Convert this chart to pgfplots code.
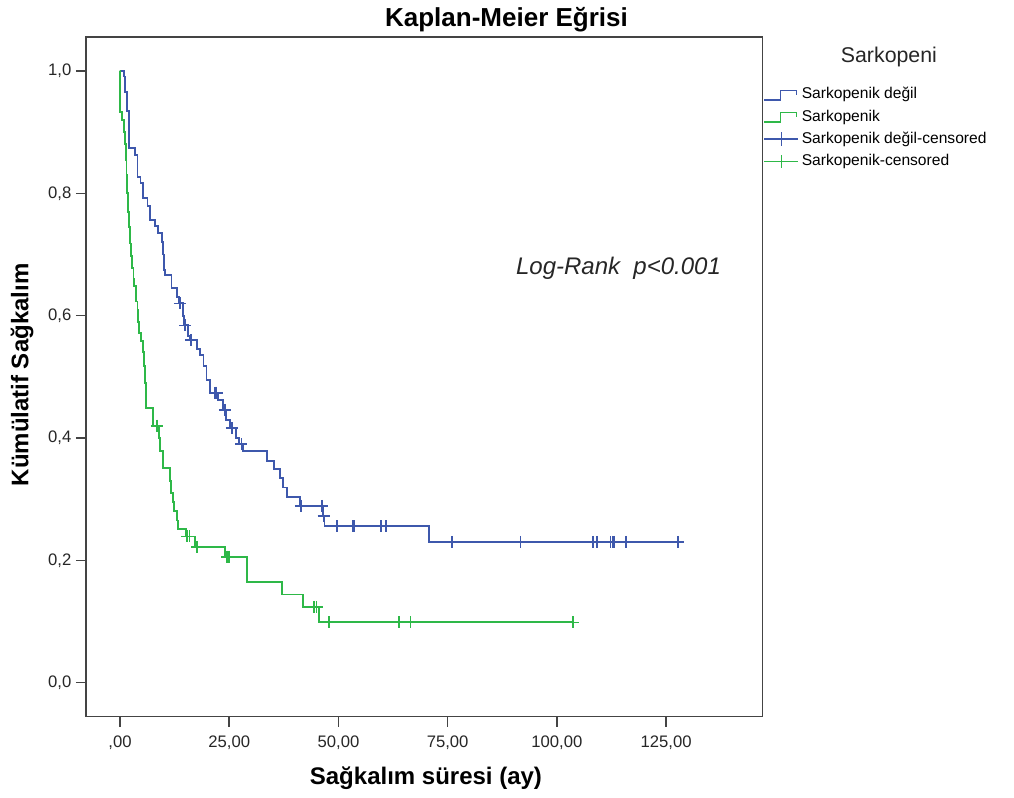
\documentclass[border=0pt]{standalone}
\usepackage{fontspec}
\setmainfont{Liberation Sans}
\usepackage{pgfplots}
\pgfplotsset{compat=1.18}
\definecolor{kmblue}{HTML}{3E58AC}
\definecolor{kmgreen}{HTML}{2EB848}
\definecolor{axgray}{HTML}{444444}
\begin{document}
\begin{tikzpicture}
\useasboundingbox (-64.5pt,-61pt) rectangle (696pt,537.5pt);
\begin{axis}[
  at={(0pt,0pt)}, anchor=south west,
  scale only axis, width=507.5pt, height=509.8pt,
  xmin=-7.78, xmax=147.1, ymin=-0.0556, ymax=1.0556,
  clip=false,
  axis line style={draw=axgray, line width=1.1pt},
  xtick={0,25,50,75,100,125},
  xticklabels={{,00},{25,00},{50,00},{75,00},{100,00},{125,00}},
  ytick={0,0.2,0.4,0.6,0.8,1.0},
  yticklabels={{0,0},{0,2},{0,4},{0,6},{0,8},{1,0}},
  tick align=outside, tick pos=left,
  major tick length=7.5pt,
  tick style={draw=axgray, line width=1.1pt},
  ticklabel style={font=\fontsize{12.5}{14}\selectfont, text=black!85},
  xticklabel style={yshift=-3pt},
  title={Kaplan-Meier Eğrisi},
  title style={at={(0.6214,1.0035)}, anchor=base, font=\bfseries\fontsize{19.5}{22}\selectfont},
  xlabel={Sağkalım süresi (ay)},
  xlabel style={at={(0.5024,-0.0998)}, anchor=base, font=\bfseries\fontsize{18}{21}\selectfont},
  ylabel={Kümülatif Sağkalım},
  ylabel style={at={(-0.085,0.5027)}, anchor=base, rotate=0, font=\bfseries\fontsize{18}{21}\selectfont},
  legend cell align=left,
  legend style={draw=none, fill=none, at={(1.0015,0.9265)}, anchor=north west,
    inner sep=0pt, outer sep=0pt, row sep=4.6pt, column sep=0pt,
    font=\fontsize{11.7}{14}\selectfont,
    nodes={text height=9pt, text depth=3pt, inner xsep=2pt, inner ysep=0pt}},
]
% Sarkopenik degil (step)
\addplot[kmblue, line width=1.4pt, const plot mark left, no marks,
  legend image code/.code={\draw[kmblue, line width=1.1pt] (0pt,-3.7pt) -- (12pt,-3.7pt) -- (12pt,3.3pt) -- (24pt,3.3pt) -- (24pt,0pt);}]
coordinates {
(0,1.000) (0.9,0.991) (1.2,0.966) (1.6,0.934) (2.1,0.874) (3.4,0.863) (4.0,0.827)
(4.7,0.817) (5.2,0.792) (6.3,0.779) (6.8,0.757) (8.0,0.746) (8.7,0.735) (9.6,0.720)
(9.8,0.700) (10.0,0.675) (10.3,0.667) (11.8,0.645) (13.0,0.630) (13.5,0.620)
(14.4,0.600) (14.7,0.584) (15.5,0.567) (16.0,0.560) (17.6,0.546) (18.3,0.535)
(19.1,0.517) (19.8,0.495) (20.6,0.474) (22.5,0.462) (23.5,0.446) (24.3,0.430)
(25.2,0.416) (26.5,0.400) (27.3,0.390) (28.2,0.378) (33.6,0.363) (35.2,0.349)
(36.6,0.335) (37.4,0.319) (38.2,0.304) (41.2,0.289) (46.4,0.273) (46.8,0.256)
(70.8,0.230) (127.7,0.230)
};
\addlegendentry{Sarkopenik değil}
% Sarkopenik (step)
\addplot[kmgreen, line width=1.4pt, const plot mark left, no marks,
  legend image code/.code={\draw[kmgreen, line width=1.1pt] (0pt,-3.7pt) -- (12pt,-3.7pt) -- (12pt,3.3pt) -- (24pt,3.3pt) -- (24pt,0pt);}]
coordinates {
(0,1.000) (0.05,0.933) (0.4,0.920) (0.9,0.900) (1.1,0.880) (1.3,0.855) (1.5,0.830)
(1.7,0.800) (1.9,0.770) (2.1,0.745) (2.3,0.718) (2.6,0.698) (2.8,0.678) (3.1,0.660)
(3.3,0.648) (3.6,0.623) (4.0,0.610) (4.2,0.590) (4.4,0.571) (4.8,0.558) (5.2,0.540)
(5.4,0.517) (5.7,0.490) (6.0,0.449) (7.6,0.420) (9.0,0.400) (9.2,0.378) (9.9,0.351)
(11.5,0.330) (11.7,0.310) (12.2,0.295) (12.4,0.280) (13.0,0.265) (13.2,0.251)
(15.2,0.239) (17.1,0.222) (24.0,0.206) (29.1,0.165) (37.0,0.144) (41.8,0.124)
(45.6,0.0985) (103.7,0.0985)
};
\addlegendentry{Sarkopenik}
% censored marks
\addplot[kmblue, only marks, mark=+, mark size=4.5pt, mark options={kmblue, line width=1.3pt},
  legend image code/.code={\draw[kmblue, line width=1.1pt] (0pt,0pt) -- (25.5pt,0pt); \draw[kmblue, line width=1.1pt] (13pt,-5pt) -- (13pt,5pt);}]
coordinates {
(13.7,0.620) (14.9,0.584) (16.2,0.560) (21.7,0.474) (22.1,0.474) (24.0,0.446)
(25.6,0.416) (27.8,0.390) (41.4,0.289) (46.2,0.289) (46.6,0.273) (49.7,0.256)
(53.2,0.256) (53.5,0.256) (59.7,0.256) (60.9,0.256) (76.0,0.230) (91.7,0.230)
(108.3,0.230) (109.2,0.230) (112.3,0.230) (112.7,0.230) (113.0,0.230) (115.9,0.230)
(127.7,0.230)
};
\addlegendentry{Sarkopenik değil-censored}
\addplot[kmgreen, only marks, mark=+, mark size=4.5pt, mark options={kmgreen, line width=1.3pt},
  legend image code/.code={\draw[kmgreen, line width=1.1pt] (0pt,0pt) -- (25.5pt,0pt); \draw[kmgreen, line width=1.1pt] (13pt,-5pt) -- (13pt,5pt);}]
coordinates {
(8.4,0.420) (15.4,0.239) (15.9,0.239) (17.7,0.222) (24.5,0.206) (24.9,0.206)
(44.4,0.124) (45.0,0.124) (47.9,0.0985) (63.9,0.0985) (66.5,0.0985) (103.7,0.0985)
};
\addlegendentry{Sarkopenik-censored}
\node[font=\fontsize{16}{19}\selectfont, text=black!85] at (rel axis cs:1.1866,0.9706) {Sarkopeni};
\node[font=\itshape\fontsize{18}{21}\selectfont, text=black!85, anchor=base west, inner sep=0pt] at (axis cs:90.6,0.668) {Log-Rank\ \ p<0.001};
\end{axis}
\end{tikzpicture}
\end{document}
